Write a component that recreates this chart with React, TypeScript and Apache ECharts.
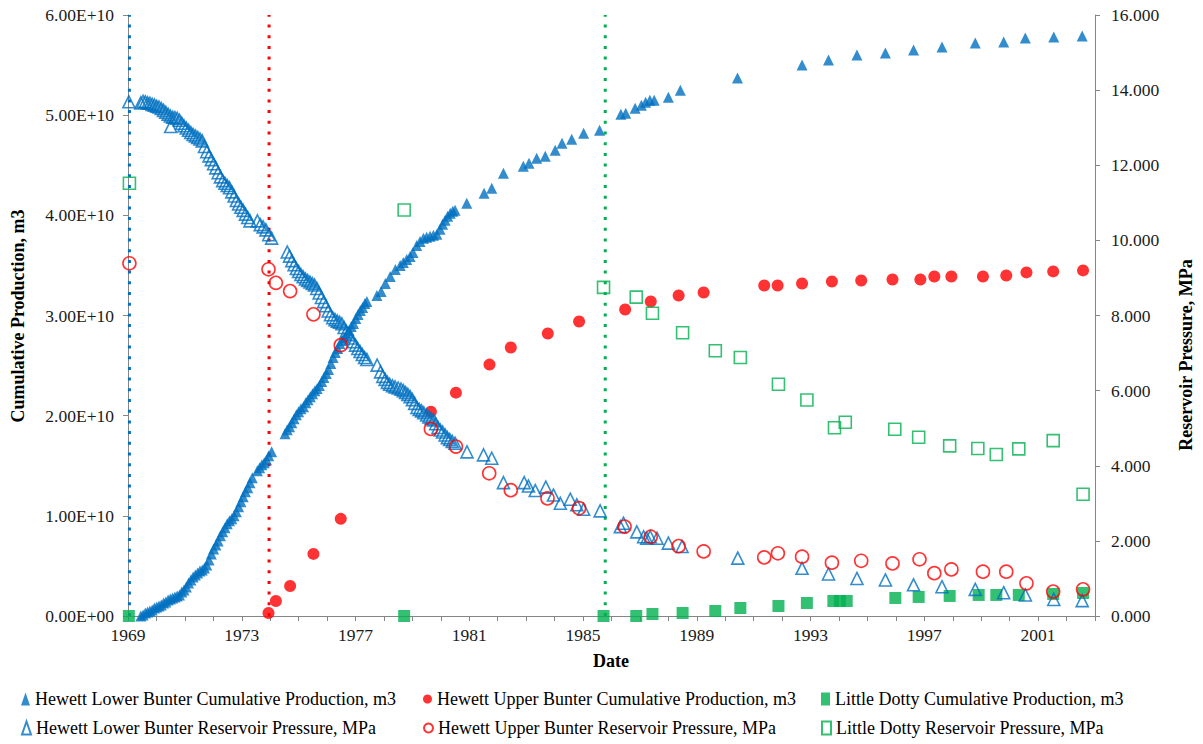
import { useEffect, useRef } from "react";
import * as echarts from "echarts";

// Cumulative production in units of 1e10 m3, pressure in MPa; x is decimal year.
const lowerBunterProduction: [number, number][] = [
  [1969.45, 0.0], [1969.53, 0.01], [1969.61, 0.03], [1969.69, 0.04], [1969.77, 0.05], [1969.85, 0.06],
  [1969.93, 0.08], [1970.01, 0.09], [1970.09, 0.1], [1970.17, 0.11], [1970.25, 0.13], [1970.33, 0.14],
  [1970.41, 0.16], [1970.49, 0.17], [1970.57, 0.18], [1970.65, 0.19], [1970.73, 0.2], [1970.81, 0.21],
  [1970.89, 0.24], [1970.97, 0.26], [1971.05, 0.29], [1971.13, 0.33], [1971.21, 0.36], [1971.29, 0.39],
  [1971.37, 0.41], [1971.45, 0.43], [1971.53, 0.45], [1971.61, 0.46], [1971.69, 0.48], [1971.77, 0.51],
  [1971.85, 0.56], [1971.93, 0.62], [1972.01, 0.67], [1972.09, 0.71], [1972.17, 0.75], [1972.25, 0.8],
  [1972.33, 0.84], [1972.41, 0.88], [1972.49, 0.92], [1972.57, 0.95], [1972.65, 0.97], [1972.73, 1.0],
  [1972.81, 1.04], [1972.89, 1.09], [1972.97, 1.14], [1973.05, 1.19], [1973.13, 1.24], [1973.21, 1.28],
  [1973.29, 1.33], [1973.37, 1.38], [1973.55, 1.45], [1973.63, 1.48], [1973.71, 1.51], [1973.79, 1.53],
  [1973.87, 1.56], [1973.95, 1.6], [1974.05, 1.64],
  [1974.52, 1.82], [1974.6, 1.86], [1974.68, 1.89], [1974.76, 1.93], [1974.84, 1.97], [1974.92, 2.01],
  [1975.0, 2.04], [1975.08, 2.07], [1975.17, 2.09], [1975.25, 2.13], [1975.33, 2.16], [1975.41, 2.19],
  [1975.49, 2.22], [1975.57, 2.25], [1975.65, 2.27], [1975.73, 2.3], [1975.81, 2.34], [1975.89, 2.38],
  [1975.97, 2.42], [1976.05, 2.46], [1976.13, 2.52], [1976.21, 2.58], [1976.29, 2.63], [1976.37, 2.67],
  [1976.45, 2.72], [1976.53, 2.75], [1976.61, 2.78], [1976.69, 2.81], [1976.77, 2.85], [1976.85, 2.89],
  [1976.93, 2.92], [1977.01, 2.97], [1977.09, 3.01], [1977.17, 3.05], [1977.25, 3.08], [1977.33, 3.12],
  [1977.4, 3.14],
  [1977.75, 3.2], [1977.9, 3.24], [1978.05, 3.32], [1978.22, 3.39], [1978.4, 3.46], [1978.57, 3.5],
  [1978.68, 3.53], [1978.8, 3.56], [1978.92, 3.59], [1979.02, 3.63], [1979.15, 3.7], [1979.27, 3.74],
  [1979.39, 3.77], [1979.5, 3.78], [1979.62, 3.79], [1979.74, 3.8], [1979.86, 3.81], [1979.97, 3.86],
  [1980.06, 3.91], [1980.15, 3.95], [1980.24, 3.99], [1980.33, 4.02], [1980.42, 4.04], [1980.5, 4.05],
  [1980.91, 4.12], [1981.52, 4.22], [1981.79, 4.27], [1982.2, 4.42], [1982.9, 4.49], [1983.1, 4.52],
  [1983.37, 4.57], [1983.67, 4.59], [1984.02, 4.65], [1984.26, 4.72], [1984.6, 4.76], [1985.02, 4.82],
  [1985.58, 4.85],
  [1986.33, 5.01], [1986.5, 5.02], [1986.83, 5.07], [1987.05, 5.1], [1987.2, 5.13], [1987.35, 5.15],
  [1987.5, 5.15], [1988.0, 5.18], [1988.42, 5.25], [1990.43, 5.37], [1992.7, 5.5], [1993.63, 5.55],
  [1994.63, 5.6], [1995.63, 5.62], [1996.62, 5.65], [1997.62, 5.68], [1998.79, 5.72], [1999.79, 5.73],
  [2000.55, 5.77], [2001.55, 5.78], [2002.55, 5.79],
];

const upperBunterProduction: [number, number][] = [
  [1973.94, 0.03], [1974.2, 0.15], [1974.7, 0.3], [1975.52, 0.62], [1976.48, 0.97], [1979.65, 2.04],
  [1980.53, 2.23], [1981.71, 2.51], [1982.46, 2.68], [1983.76, 2.82], [1984.86, 2.94], [1986.48, 3.06],
  [1987.38, 3.14], [1988.36, 3.2], [1989.24, 3.23], [1991.37, 3.3], [1991.84, 3.3], [1992.7, 3.32],
  [1993.75, 3.34], [1994.78, 3.35], [1995.88, 3.36], [1996.86, 3.36], [1997.35, 3.39], [1997.95, 3.39],
  [1999.06, 3.39], [1999.88, 3.4], [2000.59, 3.43], [2001.53, 3.44], [2002.58, 3.45],
];

const littleDottyProduction: [number, number][] = [
  [1969.03, 0], [1978.71, 0], [1985.72, 0], [1986.87, 0.0], [1987.44, 0.02], [1988.5, 0.03],
  [1989.65, 0.05], [1990.53, 0.08], [1991.87, 0.1], [1992.87, 0.13], [1993.8, 0.15], [1994.03, 0.15],
  [1994.27, 0.15], [1995.98, 0.18], [1996.8, 0.19], [1997.89, 0.2], [1998.91, 0.21], [1999.53, 0.21],
  [2000.32, 0.21], [2001.53, 0.22], [2002.58, 0.23],
];

const lowerBunterPressure: [number, number][] = [
  [1969.03, 13.69], [1969.45, 13.66], [1969.53, 13.7], [1969.61, 13.69], [1969.69, 13.66], [1969.77, 13.65],
  [1969.85, 13.62], [1969.93, 13.6], [1970.01, 13.57], [1970.09, 13.55], [1970.17, 13.51], [1970.25, 13.46],
  [1970.33, 13.41], [1970.41, 13.36], [1970.49, 13.31], [1970.5, 13.03], [1970.57, 13.28], [1970.65, 13.27],
  [1970.73, 13.25], [1970.81, 13.2], [1970.89, 13.12], [1970.97, 13.05], [1971.05, 12.99], [1971.13, 12.93],
  [1971.21, 12.87], [1971.29, 12.82], [1971.37, 12.78], [1971.45, 12.74], [1971.53, 12.7], [1971.61, 12.65],
  [1971.69, 12.5], [1971.77, 12.36], [1971.85, 12.25], [1971.93, 12.15], [1972.01, 12.04], [1972.09, 11.93],
  [1972.17, 11.8], [1972.25, 11.69], [1972.33, 11.59], [1972.41, 11.52], [1972.49, 11.46], [1972.57, 11.4],
  [1972.65, 11.29], [1972.73, 11.18], [1972.81, 11.06], [1972.89, 10.97], [1972.97, 10.88], [1973.05, 10.8],
  [1973.13, 10.7], [1973.21, 10.61], [1973.29, 10.52], [1973.55, 10.52], [1973.65, 10.42], [1973.75, 10.36],
  [1973.85, 10.28], [1973.95, 10.15], [1974.05, 10.06],
  [1974.6, 9.69], [1974.68, 9.58], [1974.76, 9.46], [1974.84, 9.35], [1974.92, 9.25], [1975.0, 9.17],
  [1975.08, 9.09], [1975.16, 9.03], [1975.24, 8.97], [1975.32, 8.93], [1975.4, 8.89], [1975.48, 8.85],
  [1975.56, 8.81], [1975.64, 8.72], [1975.72, 8.6], [1975.8, 8.48], [1975.88, 8.37], [1975.96, 8.26],
  [1976.04, 8.12], [1976.12, 8.02], [1976.2, 7.94], [1976.28, 7.89], [1976.36, 7.85], [1976.44, 7.82],
  [1976.52, 7.78], [1976.6, 7.68], [1976.68, 7.58], [1976.76, 7.49], [1976.84, 7.4], [1976.92, 7.3],
  [1977.0, 7.21], [1977.08, 7.12], [1977.16, 7.04], [1977.24, 6.96], [1977.32, 6.88], [1977.4, 6.83],
  [1977.76, 6.68], [1977.88, 6.5], [1977.96, 6.38], [1978.04, 6.3], [1978.12, 6.22], [1978.2, 6.17],
  [1978.3, 6.13], [1978.39, 6.1], [1978.5, 6.07], [1978.6, 6.04], [1978.68, 6.0], [1978.76, 5.95],
  [1978.84, 5.9], [1978.92, 5.84], [1979.0, 5.76], [1979.08, 5.66], [1979.16, 5.55], [1979.24, 5.5],
  [1979.32, 5.46], [1979.4, 5.41], [1979.5, 5.35], [1979.58, 5.3], [1979.66, 5.26], [1979.74, 5.22],
  [1979.82, 5.12], [1979.9, 5.02], [1979.98, 4.95], [1980.06, 4.9], [1980.15, 4.82], [1980.23, 4.75],
  [1980.31, 4.7], [1980.4, 4.65], [1980.5, 4.6],
  [1980.92, 4.37], [1981.5, 4.29], [1981.79, 4.2], [1982.2, 3.55], [1982.93, 3.55], [1983.08, 3.46],
  [1983.32, 3.34], [1983.69, 3.43], [1983.96, 3.22], [1984.2, 3.0], [1984.55, 3.11], [1984.78, 2.96],
  [1985.02, 2.84], [1985.6, 2.8],
  [1986.31, 2.38], [1986.42, 2.47], [1986.89, 2.24], [1987.13, 2.11], [1987.24, 2.07], [1987.36, 2.11],
  [1987.6, 2.07], [1988.0, 1.94], [1988.48, 1.85], [1990.44, 1.54], [1992.7, 1.27], [1993.63, 1.12],
  [1994.63, 1.0], [1995.63, 0.96], [1996.62, 0.83], [1997.62, 0.78], [1998.79, 0.71], [1999.79, 0.62],
  [2000.55, 0.56], [2001.55, 0.44], [2002.55, 0.41],
];

const upperBunterPressure: [number, number][] = [
  [1969.05, 9.39], [1973.94, 9.23], [1974.2, 8.87], [1974.7, 8.65], [1975.52, 8.03], [1976.48, 7.21],
  [1979.65, 4.98], [1980.53, 4.51], [1981.7, 3.8], [1982.46, 3.35], [1983.75, 3.13], [1984.86, 2.87],
  [1986.46, 2.38], [1987.38, 2.11], [1988.36, 1.86], [1989.24, 1.72], [1991.37, 1.56], [1991.85, 1.67],
  [1992.7, 1.58], [1993.75, 1.42], [1994.78, 1.47], [1995.88, 1.4], [1996.83, 1.51], [1997.35, 1.14],
  [1997.95, 1.24], [1999.06, 1.18], [1999.88, 1.18], [2000.59, 0.87], [2001.53, 0.65], [2002.58, 0.71],
];

const littleDottyPressure: [number, number][] = [
  [1969.05, 11.52], [1978.71, 10.81], [1985.72, 8.75], [1986.87, 8.49], [1987.44, 8.06], [1988.5, 7.54],
  [1989.65, 7.06], [1990.53, 6.88], [1991.87, 6.17], [1992.87, 5.75], [1993.84, 5.01], [1994.22, 5.16],
  [1995.96, 4.97], [1996.8, 4.76], [1997.89, 4.53], [1998.88, 4.46], [1999.53, 4.3], [2000.32, 4.45],
  [2001.53, 4.67], [2002.58, 3.24],
];

// Start-of-production dates for each reservoir (dotted markers)
const startDates = [
  { year: 1969.05, color: "#0070C0" },
  { year: 1973.96, color: "#FF0000" },
  { year: 1985.78, color: "#00B050" },
];

const seriesNames = [
  "Hewett Lower Bunter Cumulative Production, m3",
  "Hewett Upper Bunter Cumulative Production, m3",
  "Little Dotty Cumulative Production, m3",
  "Hewett Lower Bunter Reservoir Pressure, MPa",
  "Hewett Upper Bunter Reservoir Pressure, MPa",
  "Little Dotty Reservoir Pressure, MPa",
];

const BLUE = "#0070C0";
const RED = "#FF0000";
const GREEN = "#00B050";
const AXIS = "#868686";
const FONT = '"Liberation Serif", "Times New Roman", serif';
const E10 = 1e10;

function sci(v: number): string {
  if (v === 0) return "0.00E+00";
  const exp = Math.floor(Math.log10(v) + 1e-9);
  const m = v / Math.pow(10, exp);
  return `${m.toFixed(2)}E+${String(exp).padStart(2, "0")}`;
}

export default function App() {
  const ref = useRef<HTMLDivElement>(null);

  useEffect(() => {
    if (!ref.current) return;
    const chart = echarts.init(ref.current, undefined, { renderer: "svg" });

    const labelStyle = { fontFamily: FONT, fontSize: 17.5, color: "#1a1a1a" };
    const toProd = (arr: [number, number][]) => arr.map(([x, v]) => [x, v * E10]);

    const filled = (name: string, data: number[][], symbol: string, size: number, color: string, yAxisIndex: number) => ({
      name,
      type: "scatter",
      yAxisIndex,
      data,
      symbol,
      symbolSize: size,
      clip: false,
      itemStyle: { color },
      z: 3,
    });
    const hollow = (name: string, data: number[][], symbol: string, size: number, color: string, yAxisIndex: number) => ({
      name,
      type: "scatter",
      yAxisIndex,
      data,
      symbol,
      symbolSize: size,
      clip: false,
      itemStyle: { color: "rgba(255,255,255,0)", borderColor: color, borderWidth: 1.6 },
      z: 3,
    });

    const legendPos = [
      { left: 16, top: 685 },
      { left: 418, top: 685 },
      { left: 816, top: 685 },
      { left: 16, top: 714 },
      { left: 418, top: 714 },
      { left: 816, top: 714 },
    ];

    chart.setOption({
      animation: false,
      backgroundColor: "#ffffff",
      textStyle: { fontFamily: FONT },
      grid: { left: 128, right: 108, top: 15, bottom: 128, containLabel: false },
      legend: seriesNames.map((n, i) => ({
        data: [n],
        left: legendPos[i].left,
        top: legendPos[i].top,
        orient: "horizontal",
        itemWidth: 9,
        itemHeight: 13,
        selectedMode: false,
        textStyle: { fontFamily: FONT, fontSize: 18, color: "#000" },
      })),
      xAxis: {
        type: "value",
        min: 1969,
        max: 2003,
        interval: 1,
        axisLine: { show: true, lineStyle: { color: AXIS, width: 1 } },
        axisTick: { show: true, length: 5, lineStyle: { color: AXIS } },
        axisLabel: {
          ...labelStyle,
          margin: 10,
          formatter: (v: number) => ((v - 1969) % 4 === 0 && v < 2003 ? String(v) : ""),
        },
        splitLine: { show: false },
      },
      yAxis: [
        {
          type: "value",
          position: "left",
          min: 0,
          max: 6 * E10,
          interval: E10,
          axisLine: { show: true, lineStyle: { color: AXIS, width: 1 } },
          axisTick: { show: true, length: 5, lineStyle: { color: AXIS } },
          axisLabel: { ...labelStyle, margin: 14, formatter: (v: number) => sci(v) },
          splitLine: { show: false },
        },
        {
          type: "value",
          position: "right",
          min: 0,
          max: 16,
          interval: 2,
          axisLine: { show: true, lineStyle: { color: AXIS, width: 1 } },
          axisTick: { show: true, length: 5, lineStyle: { color: AXIS } },
          axisLabel: { ...labelStyle, margin: 16, formatter: (v: number) => v.toFixed(3) },
          splitLine: { show: false },
        },
      ],
      graphic: [
        {
          type: "text",
          x: 18,
          y: 316,
          rotation: Math.PI / 2,
          style: {
            text: "Cumulative Production, m3",
            font: `bold 18px ${FONT}`,
            fill: "#000",
            align: "center",
            verticalAlign: "middle",
          },
        },
        {
          type: "text",
          x: 1186,
          y: 355,
          rotation: Math.PI / 2,
          style: {
            text: "Reservoir Pressure, MPa",
            font: `bold 18px ${FONT}`,
            fill: "#000",
            align: "center",
            verticalAlign: "middle",
          },
        },
        {
          type: "text",
          x: 611,
          y: 661,
          style: {
            text: "Date",
            font: `bold 18px ${FONT}`,
            fill: "#000",
            align: "center",
            verticalAlign: "middle",
          },
        },
      ],
      series: [
        ...startDates.map((d) => ({
          type: "line",
          yAxisIndex: 0,
          data: [
            [d.year, 0],
            [d.year, 6 * E10],
          ],
          showSymbol: false,
          symbol: "none",
          silent: true,
          z: 1,
          lineStyle: { color: d.color, width: 3, type: [3, 7.7], cap: "butt" },
        })),
        filled(seriesNames[0], toProd(lowerBunterProduction), "triangle", 11, BLUE, 0),
        filled(seriesNames[1], toProd(upperBunterProduction), "circle", 12, RED, 0),
        filled(seriesNames[2], toProd(littleDottyProduction), "rect", 12, GREEN, 0),
        hollow(seriesNames[3], lowerBunterPressure, "triangle", 12, BLUE, 1),
        hollow(seriesNames[4], upperBunterPressure, "circle", 13, RED, 1),
        hollow(seriesNames[5], littleDottyPressure, "rect", 12, GREEN, 1),
      ],
    });

    return () => chart.dispose();
  }, []);

  return (
    <div
      ref={ref}
      style={{ position: "fixed", left: 0, top: 0, width: 1203, height: 744, background: "#fff" }}
    />
  );
}
